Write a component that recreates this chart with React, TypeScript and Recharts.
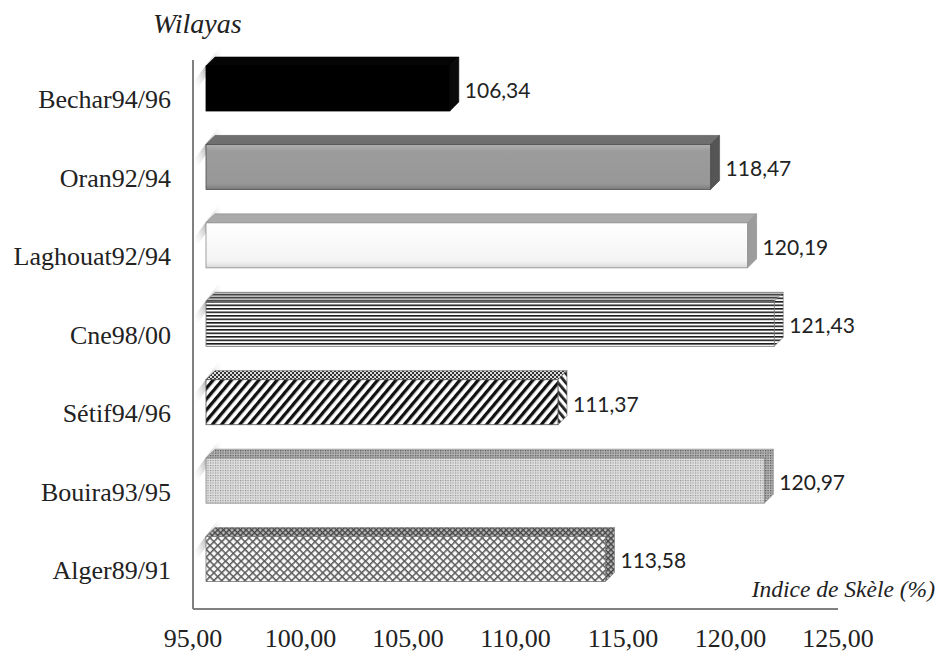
import { BarChart, Bar, XAxis, YAxis, LabelList } from 'recharts';

const wilayas = ['Bechar94/96', 'Oran92/94', 'Laghouat92/94', 'Cne98/00', 'Sétif94/96', 'Bouira93/95', 'Alger89/91'];
const skeleIndex = [106.34, 118.47, 120.19, 121.43, 111.37, 120.97, 113.58];
const xTicks = [95, 100, 105, 110, 115, 120, 125];

const data = wilayas.map((name, i) => ({ name, value: skeleIndex[i] }));

const SERIF = "'Liberation Serif', 'Times New Roman', Times, serif";

// 3D box: bars sit on the back of the floor, so they are pushed up/right
const SHIFT_X = 13;
const SHIFT_Y = -15;
const DEPTH = 9;

// one set of face fills per wilaya, same order as above
const faces = [
  { front: '#000', top: '#050505', side: '#0a0a0a', edge: '#000' },
  { front: 'url(#oranFront)', top: '#6f6f6f', side: '#555', edge: '#4a4a4a' },
  { front: 'url(#laghFront)', top: '#aaa', side: '#9c9c9c', edge: '#8a8a8a' },
  { front: 'url(#hStripes)', top: 'url(#hStripesTop)', side: 'url(#hStripes)', edge: '#777' },
  { front: 'url(#diagStripes)', top: 'url(#checker)', side: 'url(#diagStripesSide)', edge: '#555' },
  { front: 'url(#dots)', top: 'url(#dotsDark)', side: 'url(#dotsDark)', edge: '#888' },
  { front: 'url(#lattice)', top: 'url(#latticeDark)', side: 'url(#latticeDark)', edge: '#777' },
];

const fmt = (v: number) => v.toFixed(2).replace('.', ',');

function Box3D(props: any) {
  const { x, y, width, height, index } = props;
  const f = faces[index];
  const x0 = x + SHIFT_X;
  const y0 = y + SHIFT_Y;
  const fy = y0 + DEPTH;
  const fh = height - DEPTH;
  const x1 = x0 + width;
  return (
    <g>
      <polygon
        points={`${x + 2},${fy + 14} ${x0 + DEPTH + 6},${y0 - 12} ${x0 + DEPTH + 6},${y0 - 2} ${x + 2},${fy + 26}`}
        fill="url(#wallShade)"
      />
      <polygon
        points={`${x0},${fy} ${x0 + DEPTH},${y0} ${x1 + DEPTH},${y0} ${x1},${fy}`}
        fill={f.top}
        stroke={f.edge}
        strokeWidth={0.6}
      />
      <polygon
        points={`${x1},${fy} ${x1 + DEPTH},${y0} ${x1 + DEPTH},${y0 + fh} ${x1},${fy + fh}`}
        fill={f.side}
        stroke={f.edge}
        strokeWidth={0.6}
      />
      <rect x={x0} y={fy} width={width} height={fh} fill={f.front} stroke={f.edge} strokeWidth={0.8} />
    </g>
  );
}

function ValueLabel(props: any) {
  const { x, y, width, height, value } = props;
  const lx = x + SHIFT_X + width + DEPTH + 6;
  const ly = y + SHIFT_Y + DEPTH + (height - DEPTH) / 2 + 2;
  return (
    <text x={lx} y={ly} dy="0.35em" fill="#222" fontFamily="Lato" fontSize={21}>
      {fmt(value)}
    </text>
  );
}

export default function App() {
  return (
    <div style={{ position: 'absolute', left: 0, top: 0, background: '#fff', fontFamily: SERIF }}>
      <BarChart
        width={938}
        height={655}
        data={data}
        layout="vertical"
        margin={{ top: 60, right: 100, bottom: 0, left: 0 }}
        barSize={54}
      >
        <defs>
          <linearGradient id="wallShade" x1="0" y1="1" x2="1" y2="0">
            <stop offset="0" stopColor="#ffffff" stopOpacity={0} />
            <stop offset="0.5" stopColor="#8a8a8a" stopOpacity={0.7} />
            <stop offset="1" stopColor="#ffffff" stopOpacity={0} />
          </linearGradient>
          <linearGradient id="oranFront" x1="0" y1="0" x2="0" y2="1">
            <stop offset="0" stopColor="#b0b0b0" />
            <stop offset="0.15" stopColor="#9c9c9c" />
            <stop offset="0.88" stopColor="#979797" />
            <stop offset="1" stopColor="#7a7a7a" />
          </linearGradient>
          <linearGradient id="laghFront" x1="0" y1="0" x2="0" y2="1">
            <stop offset="0" stopColor="#ffffff" />
            <stop offset="0.85" stopColor="#f4f4f4" />
            <stop offset="1" stopColor="#d8d8d8" />
          </linearGradient>
          <pattern id="hStripes" width="8" height="3.5" patternUnits="userSpaceOnUse">
            <rect width="8" height="3.5" fill="#fff" />
            <rect width="8" height="1.6" fill="#1a1a1a" />
          </pattern>
          <pattern id="hStripesTop" width="8" height="3" patternUnits="userSpaceOnUse">
            <rect width="8" height="3" fill="#bbb" />
            <rect width="8" height="1.4" fill="#444" />
          </pattern>
          <pattern id="diagStripes" width="7" height="7" patternUnits="userSpaceOnUse" patternTransform="rotate(40)">
            <rect width="7" height="7" fill="#fff" />
            <rect width="3.3" height="7" fill="#111" />
          </pattern>
          <pattern id="diagStripesSide" width="6" height="6" patternUnits="userSpaceOnUse" patternTransform="rotate(-40)">
            <rect width="6" height="6" fill="#fff" />
            <rect width="2.8" height="6" fill="#222" />
          </pattern>
          <pattern id="checker" width="4" height="4" patternUnits="userSpaceOnUse">
            <rect width="4" height="4" fill="#ddd" />
            <rect width="2" height="2" fill="#333" />
            <rect x="2" y="2" width="2" height="2" fill="#333" />
          </pattern>
          <pattern id="dots" width="2.5" height="2.5" patternUnits="userSpaceOnUse">
            <rect width="2.5" height="2.5" fill="#dedede" />
            <rect width="1.1" height="1.1" fill="#8a8a8a" />
          </pattern>
          <pattern id="dotsDark" width="2.5" height="2.5" patternUnits="userSpaceOnUse">
            <rect width="2.5" height="2.5" fill="#b5b5b5" />
            <rect width="1.3" height="1.3" fill="#5a5a5a" />
          </pattern>
          <pattern id="lattice" width="5.5" height="5.5" patternUnits="userSpaceOnUse" patternTransform="rotate(45)">
            <rect width="5.5" height="5.5" fill="#f8f8f8" />
            <rect width="5.5" height="1.5" fill="#5a5a5a" />
            <rect width="1.5" height="5.5" fill="#5a5a5a" />
          </pattern>
          <pattern id="latticeDark" width="4" height="4" patternUnits="userSpaceOnUse" patternTransform="rotate(45)">
            <rect width="4" height="4" fill="#bbb" />
            <rect width="4" height="1.4" fill="#444" />
            <rect width="1.4" height="4" fill="#444" />
          </pattern>
        </defs>
        <XAxis
          type="number"
          domain={[95, 125]}
          ticks={xTicks}
          interval={0}
          tickFormatter={fmt}
          tickLine={false}
          tickSize={0}
          tickMargin={20}
          height={46}
          axisLine={{ stroke: '#808080', strokeWidth: 2 }}
          tick={{ fill: '#222', fontFamily: SERIF, fontSize: 26 }}
        />
        <YAxis
          type="category"
          dataKey="name"
          width={193}
          interval={0}
          tickLine={false}
          tickSize={0}
          tickMargin={22}
          axisLine={{ stroke: '#808080', strokeWidth: 2 }}
          tick={{ fill: '#222', fontFamily: SERIF, fontSize: 26 }}
        />
        <Bar dataKey="value" shape={Box3D} isAnimationActive={false}>
          <LabelList dataKey="value" content={ValueLabel} />
        </Bar>
        <text x={153} y={33} fontFamily={SERIF} fontStyle="italic" fontSize={28} fill="#222">
          Wilayas
        </text>
        <text x={935} y={597} textAnchor="end" fontFamily={SERIF} fontStyle="italic" fontSize={23.5} fill="#222">
          Indice de Skèle (%)
        </text>
      </BarChart>
    </div>
  );
}
